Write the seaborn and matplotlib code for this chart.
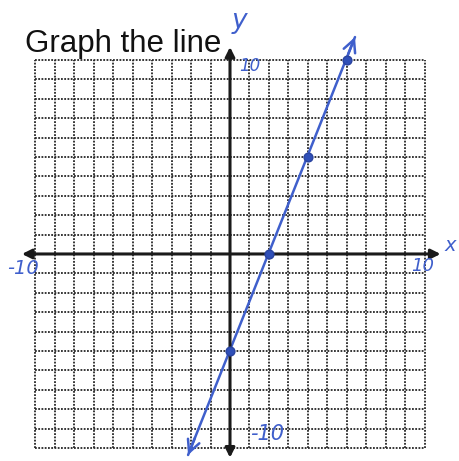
import matplotlib
matplotlib.use("Agg")
import matplotlib.pyplot as plt
import seaborn as sns
import pandas as pd

# Plotted points on the line y = 2.5x - 5
point_x = [0, 2, 4, 6]
point_y = [-5, 0, 5, 10]

# Ends of the drawn line (arrow tips)
line_x = [-2.15, 6.41]
line_y = [-10.36, 11.18]

# Grid extent and axis tick labels
grid_ticks = list(range(-10, 11))
axis_labels = ["-10", "10", "10", "-10"]

pen = "#3f5fcc"

sns.set_theme(style="white")
plt.rcParams["font.family"] = ["Liberation Sans", "DejaVu Sans"]

fig = plt.figure(figsize=(4.6, 4.61), dpi=100)
ax = fig.add_axes([0, 0, 1, 1])
ax.set_xlim(-11.795, 11.795)
ax.set_ylim(-10.67, 13.09)
ax.axis("off")

# dotted graph-paper grid
ax.vlines(grid_ticks, -10, 10, colors="#262626", linestyles=(0, (1, 0.8)), linewidth=1.3)
ax.hlines(grid_ticks, -10, 10, colors="#262626", linestyles=(0, (1, 0.8)), linewidth=1.3)

# coordinate axes with arrowheads
ax.annotate("", xy=(10.8, 0), xytext=(-10.67, 0),
            arrowprops=dict(arrowstyle="<|-|>", color="#1a1a1a", lw=2.2,
                            mutation_scale=14, shrinkA=0, shrinkB=0))
ax.annotate("", xy=(0, 10.67), xytext=(0, -10.5),
            arrowprops=dict(arrowstyle="<|-|>", color="#1a1a1a", lw=2.2,
                            mutation_scale=14, shrinkA=0, shrinkB=0))

# the graphed line
line_df = pd.DataFrame({"x": line_x, "y": line_y})
sns.lineplot(data=line_df, x="x", y="y", ax=ax, color=pen, linewidth=1.8,
             sort=False, estimator=None)
for i, j in [(1, 0), (0, 1)]:
    ax.annotate("", xy=(line_x[i], line_y[i]),
                xytext=(line_x[i] + 0.35 * (line_x[j] - line_x[i]) / 8.56,
                        line_y[i] + 0.35 * (line_y[j] - line_y[i]) / 8.56),
                arrowprops=dict(arrowstyle="->", color=pen, lw=1.8,
                                mutation_scale=22, shrinkA=0, shrinkB=0))

pts = pd.DataFrame({"x": point_x, "y": point_y})
sns.scatterplot(data=pts, x="x", y="y", ax=ax, color="#2f4fb8", s=40,
                edgecolor="#2a44a0", linewidth=1, zorder=5)

# heading
fig.text(25 / 460, 1 - 52 / 461, "Graph the line", fontsize=22.5,
         color="#111111", ha="left", va="baseline", family="Liberation Sans")

# handwritten labels
hand = dict(color=pen, style="italic", family="DejaVu Sans", fontweight="light")
ax.text(0.5, 12.0, "y", fontsize=19, ha="center", va="center", **hand)
ax.text(1.0, 9.7, axis_labels[2], fontsize=12, ha="center", va="center", **hand)
ax.text(-10.6, -0.75, axis_labels[0], fontsize=14, ha="center", va="center", **hand)
ax.text(9.9, -0.6, axis_labels[1], fontsize=13, ha="center", va="center", **hand)
ax.text(11.3, 0.45, "x", fontsize=14, ha="center", va="center", **hand)
ax.text(1.9, -9.3, axis_labels[3], fontsize=15, ha="center", va="center", **hand)

fig.savefig("out.png", dpi=100, facecolor="white")
